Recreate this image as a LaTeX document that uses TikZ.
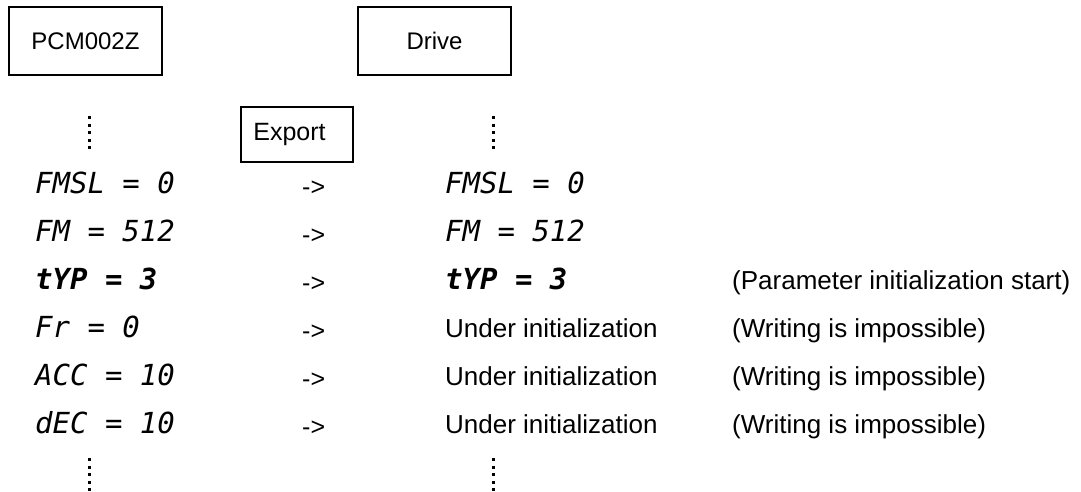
\documentclass[tikz,border=0pt]{standalone}
\usepackage{fontspec}
\setmainfont{Liberation Sans}
\newfontfamily\segfont{DejaVu Sans Mono}
\tikzset{
  bigbox/.style={draw, line width=2.8pt, minimum width=153pt, minimum height=68pt, inner sep=0pt, font=\fontsize{24}{28}\selectfont},
  expbox/.style={draw, line width=1.7pt, minimum width=112pt, minimum height=55pt, inner sep=0pt, font=\fontsize{25}{29}\selectfont},
  txt/.style={anchor=base west, inner sep=0pt, font=\fontsize{26}{30}\selectfont},
  seg/.style={anchor=base west, inner sep=0pt, font=\fontsize{29}{32}\segfont\itshape},
  segb/.style={anchor=base west, inner sep=0pt, font=\fontsize{29}{32}\segfont\bfseries\itshape},
  arr/.style={anchor=base west, inner sep=0pt, font=\fontsize{25}{28}\selectfont},
  dots/.style={line width=3pt, dash pattern=on 3pt off 4.5pt}
}
\begin{document}
\begin{tikzpicture}[x=1pt, y=-1pt]
\useasboundingbox (0,0) rectangle (1081,491);
% header boxes
\node[bigbox] (pcm) at (85.5,41) {PCM002Z};
\node[bigbox] (drv) at (434.5,41) {Drive};
\node[expbox] (exp) at (297,134.5) {Export\kern15pt};
% dotted ellipses
\coordinate (l1a) at (89,116); \coordinate (l1b) at (89,149);
\coordinate (l2a) at (89,458); \coordinate (l2b) at (89,491);
\coordinate (r1a) at (493,116); \coordinate (r1b) at (493,149);
\coordinate (r2a) at (493,458); \coordinate (r2b) at (493,491);
\draw[dots] (l1a) -- (l1b);
\draw[dots] (l2a) -- (l2b);
\draw[dots] (r1a) -- (r1b);
\draw[dots] (r2a) -- (r2b);
% left column (PCM002Z)
\node[seg]  (a1) at (35,193) {FMSL = 0};
\node[seg]  (a2) at (35,241) {FM = 512};
\node[segb] (a3) at (35,289) {tYP = 3};
\node[seg]  (a4) at (35,337) {Fr = 0};
\node[seg]  (a5) at (35,385) {ACC = 10};
\node[seg]  (a6) at (35,433) {dEC = 10};
% arrows
\node[arr] (x1) at (302,195) {->};
\node[arr] (x2) at (302,243) {->};
\node[arr] (x3) at (302,291) {->};
\node[arr] (x4) at (302,339) {->};
\node[arr] (x5) at (302,387) {->};
\node[arr] (x6) at (302,435) {->};
% right column (Drive)
\node[seg]  (b1) at (445,193) {FMSL = 0};
\node[seg]  (b2) at (445,241) {FM = 512};
\node[segb] (b3) at (445,289) {tYP = 3};
\node[txt]  (b4) at (445,337) {Under initialization};
\node[txt]  (b5) at (445,385) {Under initialization};
\node[txt]  (b6) at (445,433) {Under initialization};
% notes
\node[txt] (n3) at (732,289) {(Parameter initialization start)};
\node[txt] (n4) at (732,337) {(Writing is impossible)};
\node[txt] (n5) at (732,385) {(Writing is impossible)};
\node[txt] (n6) at (732,433) {(Writing is impossible)};
\end{tikzpicture}
\end{document}
